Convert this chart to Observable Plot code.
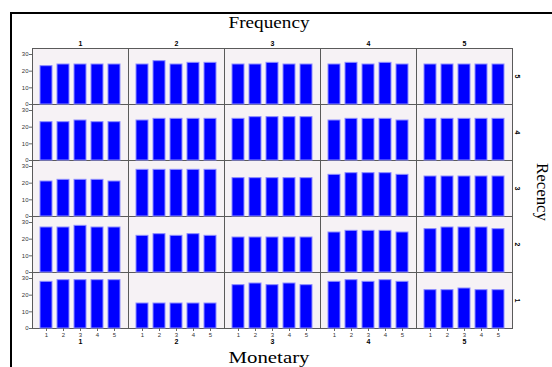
<!DOCTYPE html>
<html>
<head>
<meta charset="utf-8">
<script src="https://cdn.jsdelivr.net/npm/d3@7"></script>
<script src="https://cdn.jsdelivr.net/npm/@observablehq/plot@0.6"></script>
<style>
  html, body { margin: 0; padding: 0; background: #fff; }
  #chart { width: 552px; height: 367px; overflow: hidden; }
</style>
</head>
<body>
<div id="chart"></div>
<script>
// Facet categories
const frequencyLevels = [1, 2, 3, 4, 5];   // columns (top / bottom labels)
const recencyLevels = [5, 4, 3, 2, 1];     // rows (right labels)
const monetaryLevels = [1, 2, 3, 4, 5];    // bars inside each panel
const yTicks = [0, 10, 20, 30];

// Values per recency row; each row lists frequency 1..5, each with monetary 1..5
const recency5 = [[23,24,24,24,24],[24,26,24,25,25],[24,24,25,24,24],[24,25,24,25,24],[24,24,24,24,24]];
const recency4 = [[23,23,24,23,23],[24,25,25,25,25],[25,26,26,26,26],[24,25,25,25,24],[25,25,25,25,25]];
const recency3 = [[21,22,22,22,21],[28,28,28,28,28],[23,23,23,23,23],[25,26,26,26,25],[24,24,24,24,24]];
const recency2 = [[27,27,28,27,27],[22,23,22,23,22],[21,21,21,21,21],[24,25,25,25,24],[26,27,27,27,26]];
const recency1 = [[28,29,29,29,29],[15,15,15,15,15],[26,27,26,27,26],[28,29,28,29,28],[23,23,24,23,23]];

const rowsByRecency = {5: recency5, 4: recency4, 3: recency3, 2: recency2, 1: recency1};
const data = [];
for (const r of recencyLevels) {
  rowsByRecency[r].forEach((vals, fi) => {
    vals.forEach((v, mi) => {
      data.push({recency: r, frequency: frequencyLevels[fi], monetary: monetaryLevels[mi], value: v});
    });
  });
}

const small = "'Liberation Sans', Arial, sans-serif";

const plot = Plot.plot({
  width: 552,
  height: 367,
  marginLeft: 30,
  marginTop: 48,
  marginRight: 38,
  marginBottom: 39,
  style: {fontFamily: small, background: "transparent"},
  fx: {domain: frequencyLevels, padding: 0},
  fy: {domain: recencyLevels, padding: 0},
  x: {domain: monetaryLevels, paddingInner: 0.29, paddingOuter: 0.42},
  y: {domain: [0, 33.6]},
  marks: [
    Plot.frame({fill: "#f6f2f5", stroke: "#5a5a5a", strokeWidth: 1}),
    Plot.barY(data, {
      fx: "frequency", fy: "recency", x: "monetary", y: "value",
      fill: "#0000ff", stroke: "#8c8cff", strokeWidth: 1
    }),
    Plot.axisY({ticks: yTicks, tickSize: 3, tickPadding: 1, fontSize: 6, label: null, stroke: "#666", fill: "#333"}),
    Plot.axisX({tickSize: 3, tickPadding: 1, fontSize: 6, label: null, stroke: "#666", fill: "#333"}),
    Plot.axisFx({anchor: "top", tickSize: 0, tickPadding: 3, fontSize: 7, fontWeight: "bold", label: null}),
    Plot.axisFx({anchor: "bottom", tickSize: 0, tickPadding: 11, fontSize: 7, fontWeight: "bold", label: null}),
    Plot.axisFy({anchor: "right", tickSize: 0, tickPadding: 5, fontSize: 7, fontWeight: "bold", label: null, rotate: 90, textAnchor: "middle"})
  ]
});

document.getElementById("chart").appendChild(plot);

// Figure decorations and titles
const svg = d3.select(plot);
svg.append("line").attr("x1", 11).attr("x2", 552).attr("y1", 13).attr("y2", 13)
  .attr("stroke", "#000").attr("stroke-width", 2);
svg.append("line").attr("x1", 11).attr("x2", 11).attr("y1", 12).attr("y2", 367)
  .attr("stroke", "#000").attr("stroke-width", 2);

const serif = "'Liberation Serif', 'Times New Roman', serif";
svg.append("text").text("Frequency")
  .attr("x", 269).attr("y", 28).attr("text-anchor", "middle")
  .attr("textLength", 81).attr("lengthAdjust", "spacingAndGlyphs")
  .attr("font-family", serif).attr("font-size", 16).attr("fill", "#000");
svg.append("text").text("Monetary")
  .attr("x", 269).attr("y", 363).attr("text-anchor", "middle")
  .attr("textLength", 81).attr("lengthAdjust", "spacingAndGlyphs")
  .attr("font-family", serif).attr("font-size", 16).attr("fill", "#000");
svg.append("text").text("Recency")
  .attr("transform", "translate(537,192) rotate(90)").attr("text-anchor", "middle")
  .attr("textLength", 58).attr("lengthAdjust", "spacingAndGlyphs")
  .attr("font-family", serif).attr("font-size", 16).attr("fill", "#000");
</script>
</body>
</html>
